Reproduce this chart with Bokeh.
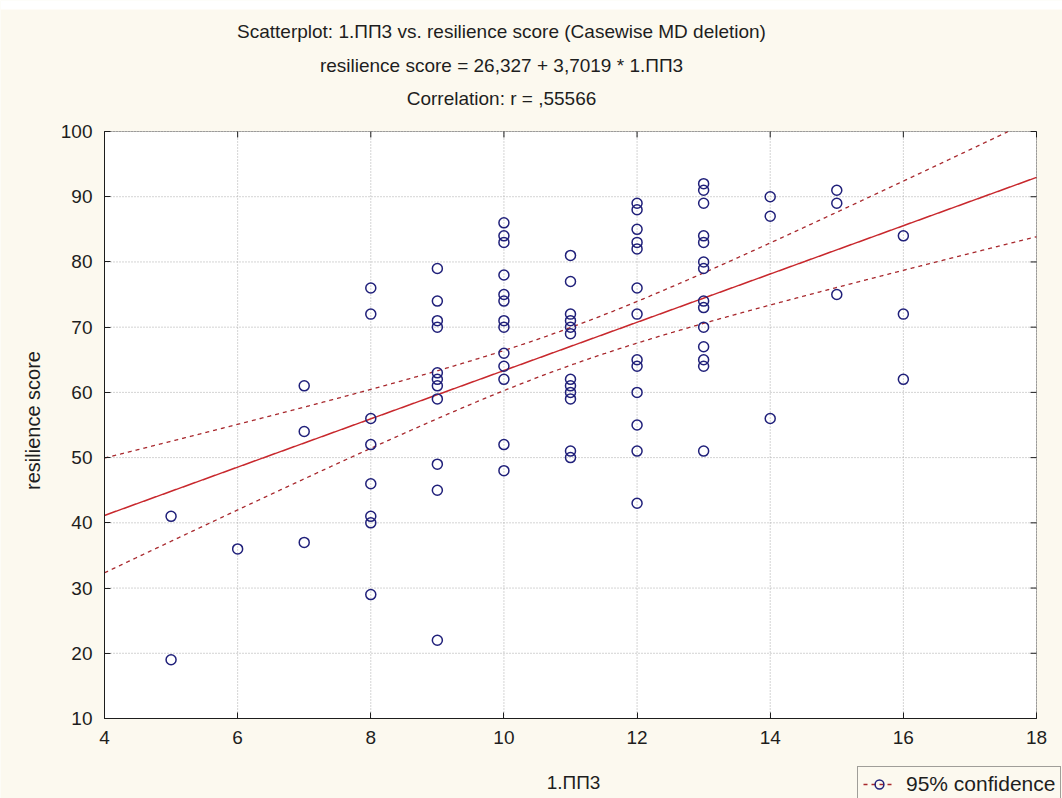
import numpy as np
from bokeh.plotting import figure
from bokeh.models import (Range1d, FixedTicker, Label, Legend, LegendItem, BoxAnnotation)
from bokeh.embed import file_html
from bokeh.resources import INLINE

# ---- data ----
pp3_groups = [5, 6, 7, 8, 9, 10, 11, 12, 13, 14, 15, 16]
scores_by_group = [
    [41, 19],
    [36],
    [61, 54, 37],
    [76, 72, 56, 52, 46, 41, 40, 29],
    [79, 74, 71, 70, 63, 62, 61, 59, 49, 45, 22],
    [86, 84, 83, 78, 75, 74, 71, 70, 66, 64, 62, 52, 48],
    [81, 77, 72, 71, 70, 69, 62, 61, 60, 59, 51, 50],
    [89, 88, 85, 83, 82, 76, 72, 65, 64, 60, 55, 51, 43],
    [92, 91, 89, 84, 83, 80, 79, 74, 73, 70, 67, 65, 64, 51],
    [90, 87, 56],
    [91, 89, 75],
    [84, 72, 62],
]
intercept = 26.327
slope = 3.7019
x_ticks = [4, 6, 8, 10, 12, 14, 16, 18]
y_ticks = [10, 20, 30, 40, 50, 60, 70, 80, 90, 100]
title_lines = [
    "Scatterplot: 1.ПП3 vs. resilience score (Casewise MD deletion)",
    "resilience score = 26,327 + 3,7019 * 1.ПП3",
    "Correlation: r = ,55566",
]
x_label = "1.ПП3"
y_label = "resilience score"
legend_label = "95% confidence"

# ---- layout (pixels) ----
W, H = 1062, 798
PX_L, PX_R, PX_T, PX_B = 104, 1036, 131, 718
X0, X1 = x_ticks[0], x_ticks[-1]
Y0, Y1 = y_ticks[0], y_ticks[-1]
kx = (PX_R - PX_L) / (X1 - X0)
ky = (PX_B - PX_T) / (Y1 - Y0)


def dx(px):
    return X0 + (px - PX_L) / kx


def dy(py):
    return Y1 - (py - PX_T) / ky


xs, ys = [], []
for g, vals in zip(pp3_groups, scores_by_group):
    for v in vals:
        xs.append(g)
        ys.append(v)
xs = np.array(xs, dtype=float)
ys = np.array(ys, dtype=float)

# regression line and 95% confidence band for the mean
n = len(xs)
xbar = xs.mean()
sxx = ((xs - xbar) ** 2).sum()
resid = ys - (intercept + slope * xs)
s = np.sqrt((resid ** 2).sum() / (n - 2))
t_crit = 1.989
xl = np.linspace(X0, X1, 1400)
yl = intercept + slope * xl
half = t_crit * s * np.sqrt(1.0 / n + (xl - xbar) ** 2 / sxx)
yu = yl + half
yd = yl - half
yu = np.where((yu > Y1) | (yu < Y0), np.nan, yu)
yd = np.where((yd > Y1) | (yd < Y0), np.nan, yd)
yl = np.where((yl > Y1) | (yl < Y0), np.nan, yl)

FONT = "Liberation Sans"
CREAM = "#fcf9ef"
INK = "#1e1e1e"

p = figure(width=W, height=H, output_backend="svg", toolbar_location=None,
           x_range=Range1d(dx(0), dx(W)), y_range=Range1d(dy(H), dy(0)),
           min_border=0, min_border_left=0, min_border_right=0,
           min_border_top=0, min_border_bottom=0,
           background_fill_color=CREAM, border_fill_color=CREAM)
p.title.visible = False
p.outline_line_color = None
p.xgrid.visible = False
p.ygrid.visible = False

# white strip at the very top and white plotting area
p.add_layout(BoxAnnotation(top=dy(0), bottom=dy(9), fill_color="white", fill_alpha=1,
                           line_color=None, level="image"))
p.add_layout(BoxAnnotation(left=X0, right=X1, bottom=Y0, top=Y1, fill_color="white",
                           fill_alpha=1, line_color=None, level="image"))

# dotted grid
p.segment(x0=x_ticks, y0=[Y0] * len(x_ticks), x1=x_ticks, y1=[Y1] * len(x_ticks),
          line_color="#a8a8a8", line_dash="1 2", line_width=1)
p.segment(x0=[X0] * len(y_ticks), y0=y_ticks, x1=[X1] * len(y_ticks), y1=y_ticks,
          line_color="#a8a8a8", line_dash="1 2", line_width=1)

# axes
xa = p.xaxis[0]
ya = p.yaxis[0]
xa.fixed_location = Y0
ya.fixed_location = X0
xa.bounds = (X0, X1)
ya.bounds = (Y0, Y1)
xa.ticker = FixedTicker(ticks=x_ticks)
ya.ticker = FixedTicker(ticks=y_ticks)
for ax in [xa, ya]:
    ax.major_label_text_font = FONT
    ax.major_label_text_font_size = "19px"
    ax.major_label_text_color = INK
    ax.major_tick_in = 6
    ax.major_tick_out = 0
    ax.minor_tick_in = 0
    ax.minor_tick_out = 0
    ax.axis_line_color = INK
    ax.major_tick_line_color = INK
xa.major_label_standoff = 12
ya.major_label_standoff = 12

# inward ticks on top and right edges
p.ray(x=x_ticks, y=[Y1] * len(x_ticks), length=6, length_units="screen",
      angle=-np.pi / 2, line_color=INK, line_width=1)
p.ray(x=[X1] * len(y_ticks), y=y_ticks, length=6, length_units="screen",
      angle=np.pi, line_color=INK, line_width=1)

# regression line, band, points
p.line(xl, yl, line_color="#c8282d", line_width=1.5)
up = p.line(xl, yu, line_color="#a8282d", line_width=1.3, line_dash="4 4")
p.line(xl, yd, line_color="#a8282d", line_width=1.3, line_dash="4 4")
pts = p.scatter(xs, ys, marker="circle", size=10, fill_color=None,
                line_color="#20207a", line_width=1.5)

# frame around the plotting area
p.add_layout(BoxAnnotation(left=X0, right=X1, bottom=Y0, top=Y1, fill_alpha=0,
                           line_color=INK, line_width=1, level="overlay"))

# titles and axis labels
for txt, py in zip(title_lines, [31, 65, 98]):
    p.add_layout(Label(x=dx(501), y=dy(py), text=txt, text_align="center",
                       text_baseline="middle", text_font=FONT, text_font_size="19px",
                       text_color=INK))
p.add_layout(Label(x=dx(32), y=dy(420), text=y_label, angle=np.pi / 2, text_align="center",
                   text_baseline="middle", text_font=FONT, text_font_size="20px",
                   text_color=INK))
p.add_layout(Label(x=dx(573), y=dy(782), text=x_label, text_align="center",
                   text_baseline="middle", text_font=FONT, text_font_size="19px",
                   text_color=INK))

legend = Legend(items=[LegendItem(label=legend_label, renderers=[up, pts])],
                location=(857, -4), orientation="vertical",
                label_text_font=FONT, label_text_font_size="21px", label_text_color=INK,
                border_line_color="#444444", background_fill_color=CREAM,
                background_fill_alpha=1.0, padding=5, margin=0, glyph_width=32,
                glyph_height=22, label_standoff=11, spacing=0)
p.add_layout(legend, "center")

open("out.html", "w").write(file_html(p, INLINE))
